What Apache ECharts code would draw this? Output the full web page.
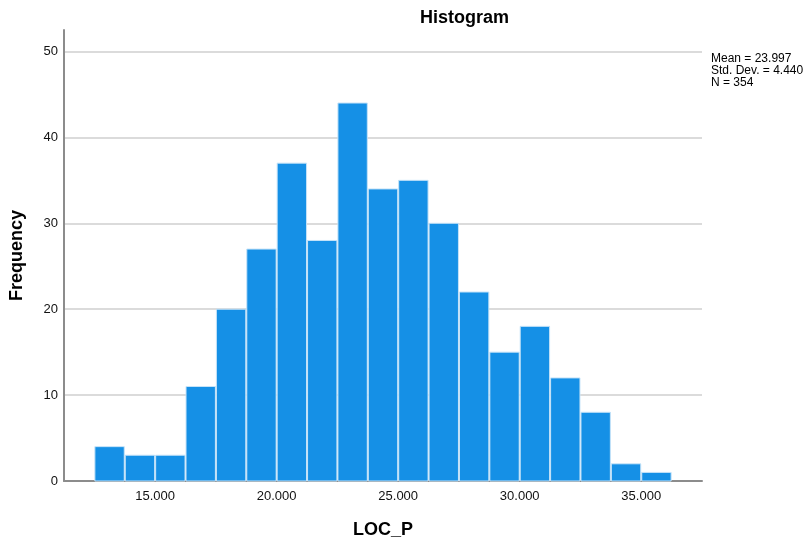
<!DOCTYPE html>
<html>
<head>
<meta charset="utf-8">
<script src="https://cdn.jsdelivr.net/npm/echarts@6/dist/echarts.min.js"></script>
<style>
html,body{margin:0;padding:0;background:#fff;}
#chart{width:808px;height:545px;}
</style>
</head>
<body>
<div id="chart"></div>
<script>
// Histogram of LOC_P
const binLower = [12.5, 13.75, 15, 16.25, 17.5, 18.75, 20, 21.25, 22.5, 23.75, 25, 26.25, 27.5, 28.75, 30, 31.25, 32.5, 33.75, 35];
const binUpper = [13.75, 15, 16.25, 17.5, 18.75, 20, 21.25, 22.5, 23.75, 25, 26.25, 27.5, 28.75, 30, 31.25, 32.5, 33.75, 35, 36.25];
const frequencies = [4, 3, 3, 11, 20, 27, 37, 28, 44, 34, 35, 30, 22, 15, 18, 12, 8, 2, 1];
const statsLines = ['Mean = 23.997', 'Std. Dev. = 4.440', 'N = 354'];

const data = binLower.map((lo, i) => [lo, binUpper[i], frequencies[i]]);
const FONT = '"Liberation Sans", Arial, sans-serif';

const chart = echarts.init(document.getElementById('chart'), null, {renderer: 'canvas'});
chart.setOption({
  animation: false,
  backgroundColor: '#ffffff',
  title: {
    text: 'Histogram',
    left: 415, top: 4,
    textStyle: {fontFamily: FONT, fontSize: 18, fontWeight: 'bold', color: '#000'}
  },
  grid: {left: 61, right: 106, top: 30, bottom: 64, containLabel: false},
  xAxis: {
    type: 'value',
    min: 11.25, max: 37.5,
    splitNumber: 5,
    name: 'LOC_P',
    nameLocation: 'middle',
    nameGap: 40,
    nameTextStyle: {fontFamily: FONT, fontSize: 18, fontWeight: 'bold', color: '#000'},
    axisLine: {show: true, lineStyle: {color: '#8c8c8c', width: 2}},
    axisTick: {show: false},
    splitLine: {show: false},
    axisLabel: {
      fontFamily: FONT, fontSize: 13, color: '#111', margin: 9,
      showMinLabel: false, showMaxLabel: false,
      formatter: v => (Math.abs(v % 5) < 1e-9 ? v.toFixed(3) : '')
    }
  },
  yAxis: {
    type: 'value',
    min: 0, max: 52.5, interval: 10,
    name: 'Frequency',
    nameLocation: 'middle',
    nameGap: 38,
    nameTextStyle: {fontFamily: FONT, fontSize: 18, fontWeight: 'bold', color: '#000'},
    axisLine: {show: true, lineStyle: {color: '#8c8c8c', width: 2}},
    axisTick: {show: false},
    splitLine: {show: true, showMaxLine: false, lineStyle: {color: '#cfcfcf', width: 1.5}},
    axisLabel: {
      fontFamily: FONT, fontSize: 13, color: '#111', margin: 6,
      showMaxLabel: false,
      formatter: v => (Math.abs(v % 10) < 1e-9 ? String(v) : '')
    }
  },
  graphic: statsLines.map((t, i) => ({
    type: 'text',
    left: 711, top: 53 + i * 12,
    style: {text: t, fontFamily: FONT, fontSize: 12, fill: '#000'}
  })),
  series: [{
    type: 'custom',
    data: data,
    encode: {x: [0, 1], y: 2},
    renderItem: function (params, api) {
      const p0 = api.coord([api.value(0), api.value(2)]);
      const p1 = api.coord([api.value(1), 0]);
      return {
        type: 'rect',
        shape: {x: p0[0] + 0.5, y: p0[1], width: p1[0] - p0[0] - 1, height: p1[1] - p0[1]},
        style: {fill: '#1590e6', stroke: '#c6e3f8', lineWidth: 1}
      };
    }
  }]
});
</script>
</body>
</html>
